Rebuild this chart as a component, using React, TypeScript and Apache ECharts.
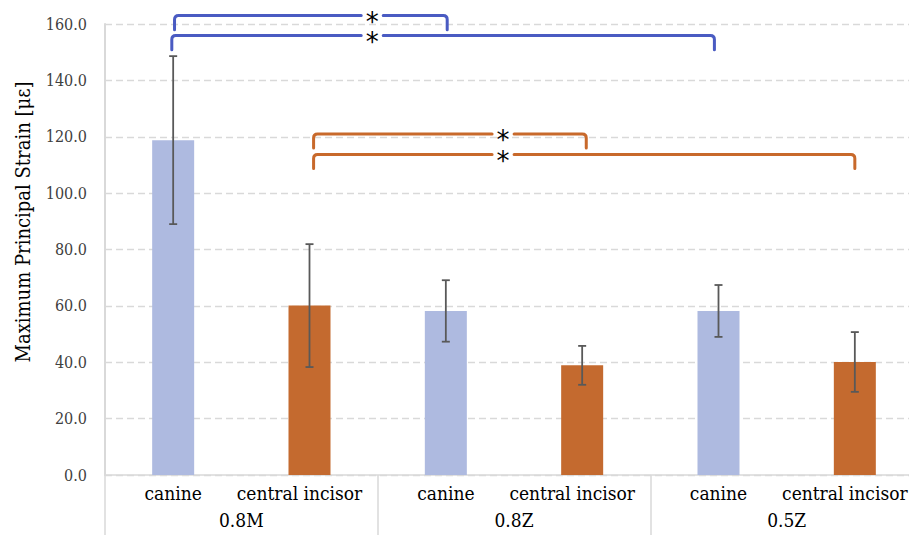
import React, { useEffect, useRef } from "react";
import * as echarts from "echarts";

// ---- data ----
const groups = ["0.8M", "0.8Z", "0.5Z"];
const teeth = ["canine", "central incisor"];
const canineMean = [118.8, 58.2, 58.2];
const canineSD = [29.8, 10.9, 9.2];
const incisorMean = [60.1, 38.9, 40.1];
const incisorSD = [21.8, 6.9, 10.6];
const yMin = 0;
const yMax = 160;
const yInterval = 20;
const yTitle = "Maximum Principal Strain [\u03bc\u03b5]";
// significance brackets: [from category, to category, level (με), star category]
const canineBrackets = [
  [0.01, 2.01, 163.0, 1.46],
  [-0.01, 3.97, 155.9, 1.46],
];
const incisorBrackets = [
  [1.03, 3.03, 121.0, 2.42],
  [1.03, 5.0, 113.7, 2.42],
];
const significance = "*";

const categories = groups.flatMap(() => teeth);
const canineData = categories.map((_, i) => (i % 2 === 0 ? canineMean[i / 2] : "-"));
const incisorData = categories.map((_, i) => (i % 2 === 1 ? incisorMean[(i - 1) / 2] : "-"));
const errorData = categories.map((_, i) =>
  i % 2 === 0 ? [i, canineMean[i / 2], canineSD[i / 2]] : [i, incisorMean[(i - 1) / 2], incisorSD[(i - 1) / 2]]
);

const SERIF_C = "DejaVu Serif Condensed";
const BLUE = "#aebae0";
const ORANGE = "#c46a2f";
const BLUE_BR = "#4a5bc2";
const ORANGE_BR = "#c8692b";
const GRID = "#d9d9d9";

function bracketSeries(list: number[][], color: string) {
  return {
    type: "custom",
    clip: false,
    silent: true,
    z: 5,
    data: list.map((b) => [0, b[2]]),
    encode: { x: 0, y: 1 },
    renderItem: (params: any, api: any) => {
      const b = list[params.dataIndex];
      const origin = api.coord([0, b[2]]);
      const band = api.size([1, 0])[0];
      const tip = api.size([0, 5])[1];
      const x1 = origin[0] + b[0] * band;
      const x2 = origin[0] + b[1] * band;
      const sx = origin[0] + b[3] * band;
      const y = origin[1];
      const r = 4;
      const gap = 11;
      const d =
        `M${x1},${y + tip} L${x1},${y + r} Q${x1},${y} ${x1 + r},${y} L${sx - gap},${y} ` +
        `M${sx + gap},${y} L${x2 - r},${y} Q${x2},${y} ${x2},${y + r} L${x2},${y + tip}`;
      return {
        type: "group",
        children: [
          {
            type: "path",
            shape: { pathData: d },
            style: { stroke: color, lineWidth: 3, fill: "none", lineCap: "round", lineJoin: "round" },
          },
          {
            type: "text",
            x: sx,
            y: y + 6,
            style: {
              text: significance,
              fontSize: 26,
              lineHeight: 16,
              fontFamily: "DejaVu Sans",
              fill: "#000",
              align: "center",
              verticalAlign: "middle",
            },
          },
        ],
      };
    },
  };
}

export default function App() {
  const ref = useRef<HTMLDivElement>(null);
  useEffect(() => {
    if (!ref.current) return;
    const chart = echarts.init(ref.current, null, { renderer: "svg" });
    chart.setOption({
      animation: false,
      backgroundColor: "#fff",
      grid: { left: 105, top: 24, width: 818, height: 451, containLabel: false },
      xAxis: [
        {
          type: "category",
          data: categories,
          position: "bottom",
          axisLine: { show: true, lineStyle: { color: GRID, width: 1.5 } },
          axisTick: { show: false },
          axisLabel: {
            interval: 0,
            margin: 8,
            fontSize: 19,
            color: "#000",
            fontFamily: SERIF_C,
            formatter: (v: string) => (v === teeth[1] ? `{ci|${v}}` : v),
            rich: {
              ci: { fontSize: 19, color: "#000", fontFamily: SERIF_C, padding: [0, 20, 0, 0] },
            },
          },
        },
        {
          type: "category",
          data: groups,
          position: "bottom",
          axisLine: { show: false },
          axisTick: { show: true, length: 60, lineStyle: { color: GRID, width: 1.5 } },
          axisLabel: { interval: 0, margin: 35, fontSize: 19, color: "#000", fontFamily: SERIF_C },
          splitLine: { show: false },
        },
      ],
      yAxis: {
        type: "value",
        min: yMin,
        max: yMax,
        interval: yInterval,
        axisLine: { show: true, lineStyle: { color: GRID, width: 2 } },
        axisTick: { show: false },
        axisLabel: {
          margin: 18,
          fontSize: 16,
          color: "#404040",
          fontFamily: SERIF_C,
          formatter: (v: number) => v.toFixed(1),
        },
        splitLine: { show: true, lineStyle: { color: GRID, width: 1.3, type: [7, 4] } },
      },
      graphic: [
        {
          type: "text",
          x: 23,
          y: 222,
          rotation: Math.PI / 2,
          style: {
            text: yTitle,
            fontSize: 20,
            fontFamily: SERIF_C,
            fill: "#000",
            align: "center",
            verticalAlign: "middle",
          },
        },
      ],
      series: [
        {
          name: teeth[0],
          type: "bar",
          data: canineData,
          barWidth: 42,
          barGap: "-100%",
          itemStyle: { color: BLUE },
        },
        {
          name: teeth[1],
          type: "bar",
          data: incisorData,
          barWidth: 42,
          barGap: "-100%",
          itemStyle: { color: ORANGE },
        },
        {
          type: "custom",
          silent: true,
          z: 4,
          data: errorData,
          encode: { x: 0, y: 1 },
          renderItem: (params: any, api: any) => {
            const x = api.value(0);
            const m = api.value(1);
            const s = api.value(2);
            const top = api.coord([x, m + s]);
            const bot = api.coord([x, m - s]);
            const half = 4;
            const st = { stroke: "#595959", lineWidth: 1.8 };
            return {
              type: "group",
              children: [
                { type: "line", shape: { x1: top[0], y1: top[1], x2: bot[0], y2: bot[1] }, style: st },
                { type: "line", shape: { x1: top[0] - half, y1: top[1], x2: top[0] + half, y2: top[1] }, style: st },
                { type: "line", shape: { x1: bot[0] - half, y1: bot[1], x2: bot[0] + half, y2: bot[1] }, style: st },
              ],
            };
          },
        },
        bracketSeries(canineBrackets, BLUE_BR),
        bracketSeries(incisorBrackets, ORANGE_BR),
      ],
    });
    return () => chart.dispose();
  }, []);
  return (
    <div
      style={{
        position: "fixed",
        left: 0,
        top: 0,
        width: 909,
        height: 535,
        overflow: "hidden",
        background: "#fff",
      }}
    >
      <div ref={ref} style={{ width: 940, height: 535 }} />
    </div>
  );
}
